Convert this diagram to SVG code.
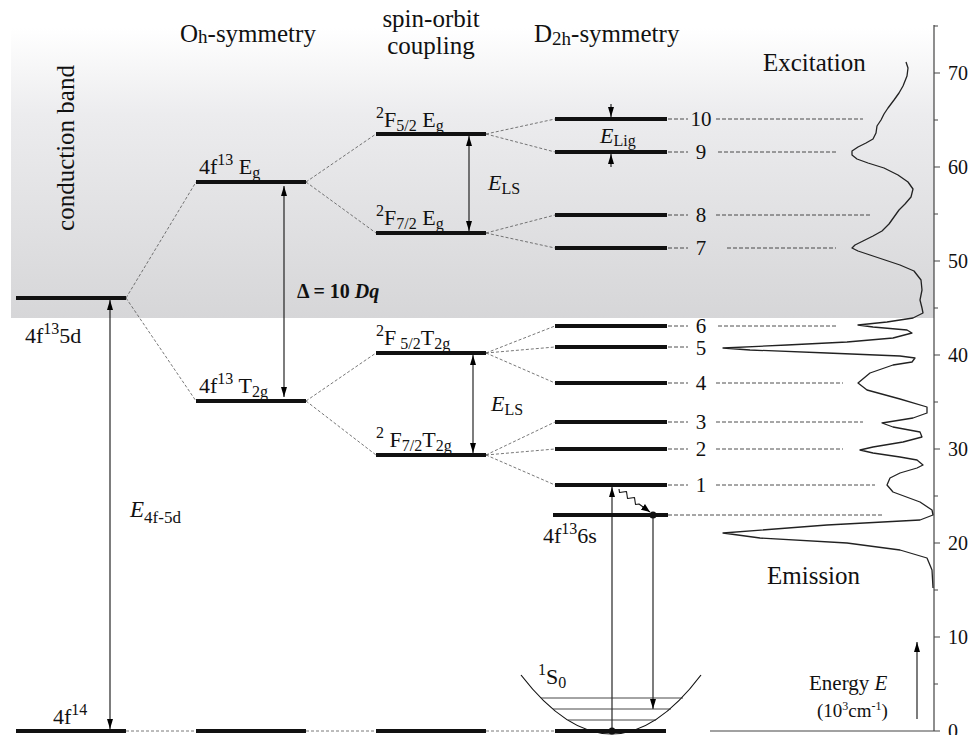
<svg xmlns="http://www.w3.org/2000/svg" width="971" height="735" viewBox="0 0 971 735">
<defs>
<linearGradient id="band" x1="0" y1="0" x2="0" y2="1">
<stop offset="0" stop-color="#ffffff"/>
<stop offset="0.3" stop-color="#ececee"/>
<stop offset="1" stop-color="#d6d6d8"/>
</linearGradient>
<marker id="ah" viewBox="0 0 10 6" refX="10" refY="3" markerWidth="10" markerHeight="6" markerUnits="userSpaceOnUse" orient="auto-start-reverse">
<path d="M0,0 L10,3 L0,6 z" fill="#000"/>
</marker>
<marker id="sah" viewBox="0 0 10 8" refX="10" refY="4" markerWidth="9" markerHeight="7" markerUnits="userSpaceOnUse" orient="auto">
<path d="M0,0 L10,4 L0,8 z" fill="#000"/>
</marker>
</defs>
<style>
text{font-family:"Liberation Serif","Times New Roman",serif;fill:#111}
.hd{font-size:25px}
.lb{font-size:22px}
.sm{font-size:16px}
.num{font-size:21px;text-anchor:middle}
.ax{font-size:20px}
.lvl{stroke:#111;stroke-width:4;fill:none}
.con{stroke:#555;stroke-width:0.8;stroke-dasharray:3,2;fill:none}
.ref{stroke:#222;stroke-width:0.8;stroke-dasharray:4,2;fill:none}
.arr{stroke:#111;stroke-width:1.1;fill:none}
.it{font-style:italic}
</style>
<rect x="11" y="28" width="923" height="290" fill="url(#band)"/>

<g id="headers">
<text class="hd" x="180" y="42">O<tspan font-size="19" dy="1">h</tspan><tspan dy="-1">-symmetry</tspan></text>
<text class="hd" x="431" y="27" text-anchor="middle">spin-orbit</text>
<text class="hd" x="431" y="54" text-anchor="middle">coupling</text>
<text class="hd" x="534" y="42">D<tspan font-size="19" dy="3">2h</tspan><tspan dy="-3">-symmetry</tspan></text>
<text class="hd" x="763" y="71">Excitation</text>
<text class="hd" x="767" y="584">Emission</text>
<text class="hd" transform="translate(74,148) rotate(-90)" text-anchor="middle">conduction band</text>
</g>

<g id="connectors">
<path class="con" d="M126,298 L196,182 M126,298 L196,401"/>
<path class="con" d="M306,182 L376,134 M306,182 L376,233 M306,401 L376,353 M306,401 L376,455"/>
<path class="con" d="M486,134 L555,119 M486,134 L555,152 M486,233 L555,215 M486,233 L555,248"/>
<path class="con" d="M486,353 L555,326 M486,353 L555,347 M486,353 L555,383 M486,455 L555,422 M486,455 L555,449 M486,455 L555,485"/>
<path class="con" d="M126,731 L196,731 M306,731 L376,731 M486,731 L555,731"/>
<path class="ref" d="M668,119 H688 M716,119 H863 M668,152 H688 M718,152 H837 M668,215 H688 M716,215 H872 M668,248 H688 M727,248 H836 M668,326 H688 M718,326 H837 M668,347 H688 M668,383 H688 M716,383 H843 M668,422 H688 M716,422 H863 M668,449 H688 M716,449 H843 M668,485 H688 M716,485 H875 M668,515 H884"/>
<path class="arr" d="M284,186 V397" marker-start="url(#ah)" marker-end="url(#ah)"/>
<path class="arr" d="M469,136 V231" marker-start="url(#ah)" marker-end="url(#ah)"/>
<path class="arr" d="M473,355 V453" marker-start="url(#ah)" marker-end="url(#ah)"/>
<path class="arr" d="M611,104 V117" marker-end="url(#ah)"/>
<path class="arr" d="M611,167 V154" marker-end="url(#ah)"/>
<path class="arr" d="M110,300 V729" marker-start="url(#ah)" marker-end="url(#ah)"/>
<path class="arr" d="M612,731 V487" marker-end="url(#ah)"/>
<path class="arr" d="M653,515 V709" marker-end="url(#ah)"/>
<path class="arr" d="M917,719 V642" marker-end="url(#ah)"/>
<polyline class="arr" points="619,489 619.5,492.5 623,492 626.5,491.5 627,495 627.5,498.5 631,498 634.5,497.5 635,501 635.5,504.5 639,504 650,512" stroke-linejoin="round" marker-end="url(#sah)"/>
</g>

<g id="n-cb"><path class="lvl" d="M16,298 H126"/><text class="lb" x="25" y="343">4f<tspan class="sm" dy="-9">13</tspan><tspan dy="9">5d</tspan></text></g>
<g id="n-4f14"><path class="lvl" d="M16,731 H126"/><text class="lb" x="53" y="724">4f<tspan class="sm" dy="-9">14</tspan></text></g>
<g id="n-Eg"><path class="lvl" d="M196,182 H306"/><text class="lb" x="199" y="174">4f<tspan class="sm" dy="-9">13</tspan><tspan dy="9"> E</tspan><tspan class="sm" dy="4">g</tspan></text></g>
<g id="n-T2g"><path class="lvl" d="M196,401 H306"/><text class="lb" x="199" y="393">4f<tspan class="sm" dy="-9">13</tspan><tspan dy="9"> T</tspan><tspan class="sm" dy="4">2g</tspan></text></g>
<g id="n-Oh0"><path class="lvl" d="M196,731 H306"/></g>
<g id="n-F52Eg"><path class="lvl" d="M376,134 H486"/><text class="lb" x="376" y="127"><tspan class="sm" dy="-9">2</tspan><tspan dy="9">F</tspan><tspan class="sm" dy="4">5/2</tspan><tspan dy="-4"> E</tspan><tspan class="sm" dy="4">g</tspan></text></g>
<g id="n-F72Eg"><path class="lvl" d="M376,233 H486"/><text class="lb" x="376" y="225"><tspan class="sm" dy="-9">2</tspan><tspan dy="9">F</tspan><tspan class="sm" dy="4">7/2</tspan><tspan dy="-4"> E</tspan><tspan class="sm" dy="4">g</tspan></text></g>
<g id="n-F52T2g"><path class="lvl" d="M376,353 H486"/><text class="lb" x="376" y="345"><tspan class="sm" dy="-9">2</tspan><tspan dy="9">F</tspan><tspan class="sm" dy="4"> 5/2</tspan><tspan dy="-4">T</tspan><tspan class="sm" dy="4">2g</tspan></text></g>
<g id="n-F72T2g"><path class="lvl" d="M376,455 H486"/><text class="lb" x="376" y="447"><tspan class="sm" dy="-9">2</tspan><tspan dy="9"> F</tspan><tspan class="sm" dy="4">7/2</tspan><tspan dy="-4">T</tspan><tspan class="sm" dy="4">2g</tspan></text></g>
<g id="n-so0"><path class="lvl" d="M376,731 H486"/></g>
<g id="n-10"><path class="lvl" d="M555,119 H667"/><text class="num" x="701" y="126">10</text></g>
<g id="n-9"><path class="lvl" d="M555,152 H667"/><text class="num" x="701" y="159">9</text></g>
<g id="n-8"><path class="lvl" d="M555,215 H667"/><text class="num" x="701" y="222">8</text></g>
<g id="n-7"><path class="lvl" d="M555,248 H667"/><text class="num" x="701" y="255">7</text></g>
<g id="n-6"><path class="lvl" d="M555,326 H667"/><text class="num" x="701" y="333">6</text></g>
<g id="n-5"><path class="lvl" d="M555,347 H667"/><text class="num" x="701" y="355">5</text></g>
<g id="n-4"><path class="lvl" d="M555,383 H667"/><text class="num" x="701" y="390">4</text></g>
<g id="n-3"><path class="lvl" d="M555,422 H667"/><text class="num" x="701" y="429">3</text></g>
<g id="n-2"><path class="lvl" d="M555,449 H667"/><text class="num" x="701" y="456">2</text></g>
<g id="n-1"><path class="lvl" d="M555,485 H667"/><text class="num" x="701" y="492">1</text></g>
<g id="n-6s"><path class="lvl" d="M553,515 H668"/><circle cx="653" cy="515" r="3.5" fill="#111"/><text class="lb" x="543" y="543">4f<tspan class="sm" dy="-9">13</tspan><tspan dy="9">6s</tspan></text></g>
<g id="n-S0">
<path class="lvl" d="M555,731 H666"/>
<path d="M521,675 Q612,793 701,675" fill="none" stroke="#111" stroke-width="1.2"/>
<path d="M541,698 H683 M553,709 H671 M568,720 H656" stroke="#333" stroke-width="0.9" fill="none"/>
<circle cx="612" cy="731" r="3.5" fill="#111"/>
<text class="lb" x="538" y="684"><tspan class="sm" dy="-9">1</tspan><tspan dy="9">S</tspan><tspan class="sm" dy="4">0</tspan></text>
</g>

<g id="labels">
<text font-size="20" font-weight="bold" x="297" y="298">Δ = 10 <tspan font-style="italic">Dq</tspan></text>
<text class="lb" x="488" y="190"><tspan class="it">E</tspan><tspan class="sm" dy="4">LS</tspan></text>
<text class="lb" x="491" y="411"><tspan class="it">E</tspan><tspan class="sm" dy="4">LS</tspan></text>
<text class="lb" x="600" y="143"><tspan class="it">E</tspan><tspan class="sm" dy="3">Lig</tspan></text>
<text font-size="23" x="130" y="517"><tspan class="it">E</tspan><tspan font-size="17" dy="6">4f-5d</tspan></text>
<text font-size="21" x="809" y="690">Energy  <tspan class="it">E</tspan></text>
<text font-size="19" x="817" y="717">(10<tspan font-size="12" dy="-7">3</tspan><tspan dy="7">cm</tspan><tspan font-size="12" dy="-7">-1</tspan><tspan dy="7">)</tspan></text>
</g>

<g id="axis">
<path d="M934,25 V731 M710,731 H934" stroke="#444" stroke-width="1.2" fill="none"/>
<path d="M934,73 H940 M934,167 H940 M934,261 H940 M934,355 H940 M934,449 H940 M934,543 H940 M934,637 H940 M934,731 H940 M934,26 H938 M934,120 H938 M934,214 H938 M934,308 H938 M934,402 H938 M934,496 H938 M934,590 H938 M934,684 H938" stroke="#444" stroke-width="1.2"/>
<text class="ax" x="948" y="80">70</text>
<text class="ax" x="948" y="174">60</text>
<text class="ax" x="948" y="268">50</text>
<text class="ax" x="948" y="362">40</text>
<text class="ax" x="948" y="456">30</text>
<text class="ax" x="948" y="550">20</text>
<text class="ax" x="948" y="644">10</text>
<text class="ax" x="948" y="738">0</text>
</g>

<g id="spectrum">
<polyline fill="none" stroke="#222" stroke-width="1.3" stroke-linejoin="round" points="906,62 908,68 907,76 903,86 899,93 894,100 888,108 884,114 881,120 877,126 876,133 873,139 866,143 858,147 852,151 852,155 857,159 868,163 884,168 898,175 908,182 913,189 911,197 905,204 899,210 894,217 889,224 882,231 873,236 863,241 855,245 852,248 858,251 870,255 885,260 900,265 914,271 921,280 922,290 920,300 922,308 923,313 913,318 887,322 858,325 873,327 907,330 912,333 893,338 847,342 787,345 723,348 750,350 827,353 900,356 915,358 912,362 893,365 870,373 858,383 867,390 900,399 927,407 927,413 913,418 882,423 893,427 920,432 922,437 903,442 873,447 860,450 873,453 900,457 917,460 923,465 917,468 900,473 890,478 887,485 893,492 920,502 932,510 933,515 920,520 827,525 723,533 760,538 847,543 900,550 927,558 932,570 933,588"/>
</g>
</svg>
